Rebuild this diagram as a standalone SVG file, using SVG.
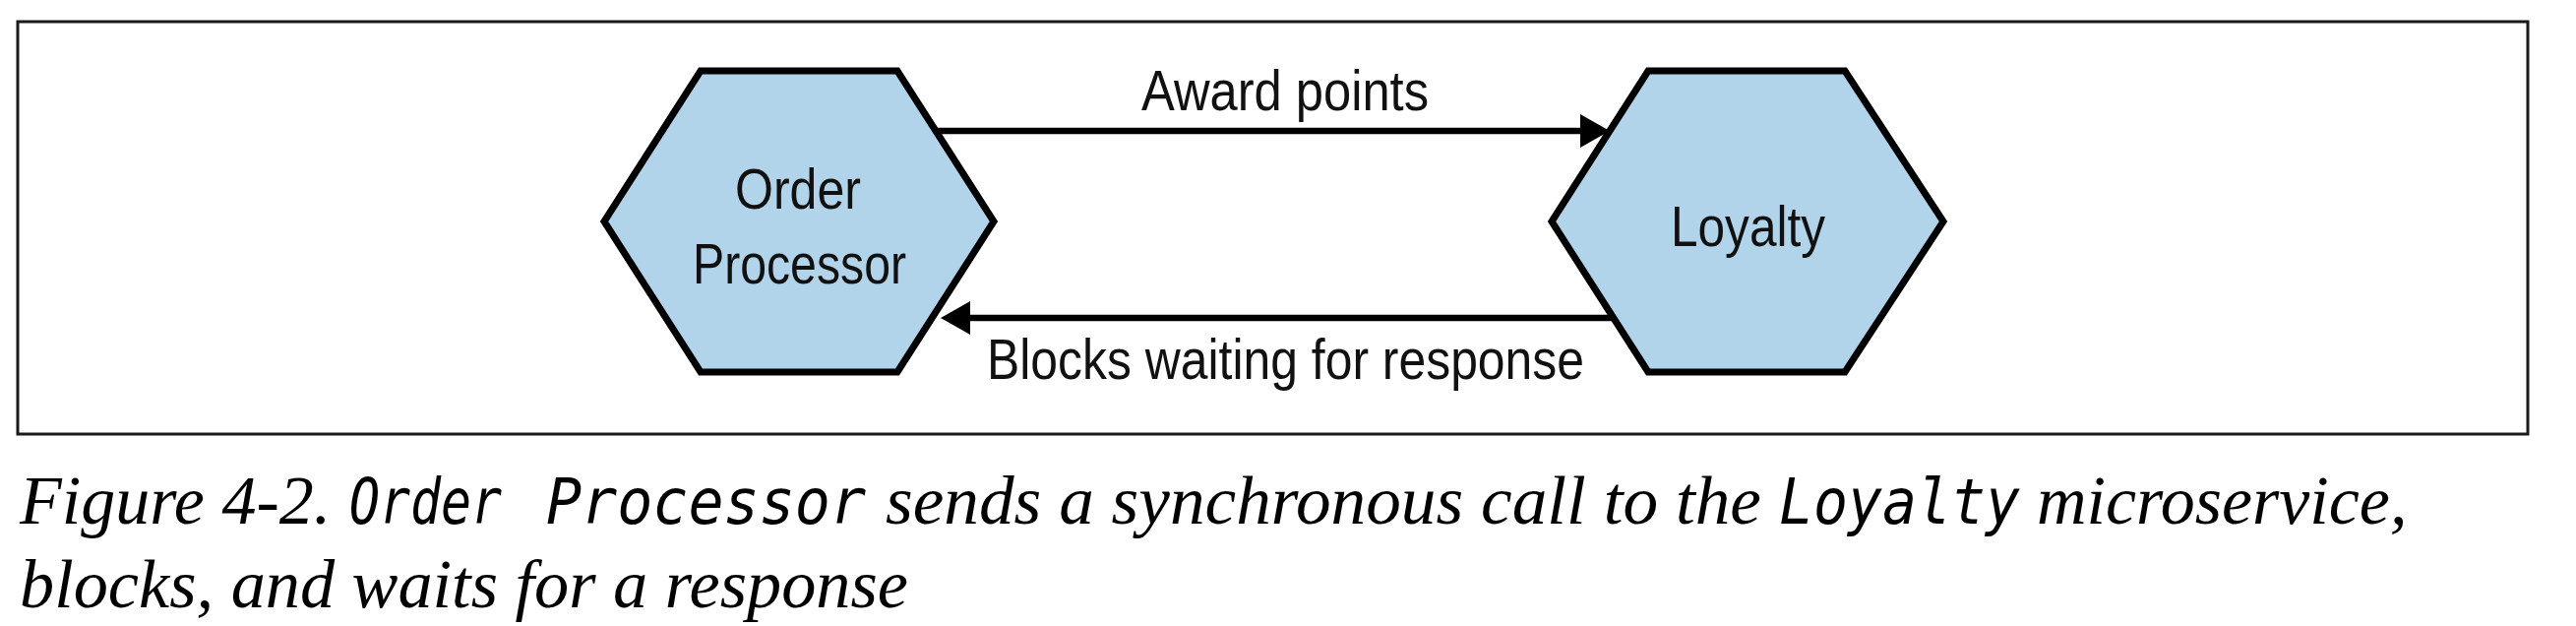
<svg xmlns="http://www.w3.org/2000/svg" width="2618" height="636" viewBox="0 0 2618 636">
  <style>
    .hex { fill: #b1d4ea; stroke: #000; stroke-width: 7; stroke-linejoin: miter; }
    .lbl { font-family: "Liberation Sans", Arial, sans-serif; font-size: 58px; fill: #111; }
    .conn { stroke: #000; stroke-width: 6.5; fill: none; }
    .cap { font-family: "Liberation Serif", "Times New Roman", serif; font-style: italic; font-size: 70px; fill: #000; }
    .mono { font-family: "DejaVu Sans Mono", "Liberation Mono", monospace; font-style: italic; font-size: 64px; fill: #000; }
  </style>
  <defs>
    <marker id="arrow" markerUnits="userSpaceOnUse" markerWidth="32" markerHeight="36" refX="2" refY="17" orient="auto">
      <path d="M0,0 L30,17 L0,34 Z" fill="#000"/>
    </marker>
  </defs>
  <rect x="0" y="0" width="2618" height="636" fill="#fff"/>
  <rect id="frame" x="18" y="22" width="2551" height="419" fill="none" stroke="#1a1a1a" stroke-width="3"/>

  <g id="node-order-processor">
    <polygon class="hex" points="712,72 912,72 1010,225 912,378 712,378 614,225"/>
    <text class="lbl" x="747" y="212" textLength="128" lengthAdjust="spacingAndGlyphs">Order</text>
    <text class="lbl" x="704" y="288" textLength="217" lengthAdjust="spacingAndGlyphs">Processor</text>
  </g>

  <g id="node-loyalty">
    <polygon class="hex" points="1675,72 1875,72 1975,225 1875,378 1675,378 1577,225"/>
    <text class="lbl" x="1698" y="250" textLength="157" lengthAdjust="spacingAndGlyphs">Loyalty</text>
  </g>

  <g id="connectors">
    <line class="conn" x1="951" y1="133" x2="1608" y2="133" marker-end="url(#arrow)"/>
    <text class="lbl" x="1160" y="112" textLength="292" lengthAdjust="spacingAndGlyphs">Award points</text>
    <line class="conn" x1="1640" y1="323" x2="984" y2="323" marker-end="url(#arrow)"/>
    <text class="lbl" x="1003" y="385" textLength="607" lengthAdjust="spacingAndGlyphs">Blocks waiting for response</text>
  </g>

  <g id="caption">
    <text class="cap" x="20" y="532">Figure 4-2.</text>
    <text class="mono" x="355" y="532" textLength="155" lengthAdjust="spacingAndGlyphs">Order</text>
    <text class="mono" x="555" y="532" textLength="325" lengthAdjust="spacingAndGlyphs">Processor</text>
    <text class="cap" x="900" y="532" textLength="890" lengthAdjust="spacingAndGlyphs">sends a synchronous call to the</text>
    <text class="mono" x="1808" y="532" textLength="245" lengthAdjust="spacingAndGlyphs">Loyalty</text>
    <text class="cap" x="2070" y="532">microservice,</text>
    <text class="cap" x="20" y="617" textLength="903" lengthAdjust="spacingAndGlyphs">blocks, and waits for a response</text>
  </g>
</svg>
